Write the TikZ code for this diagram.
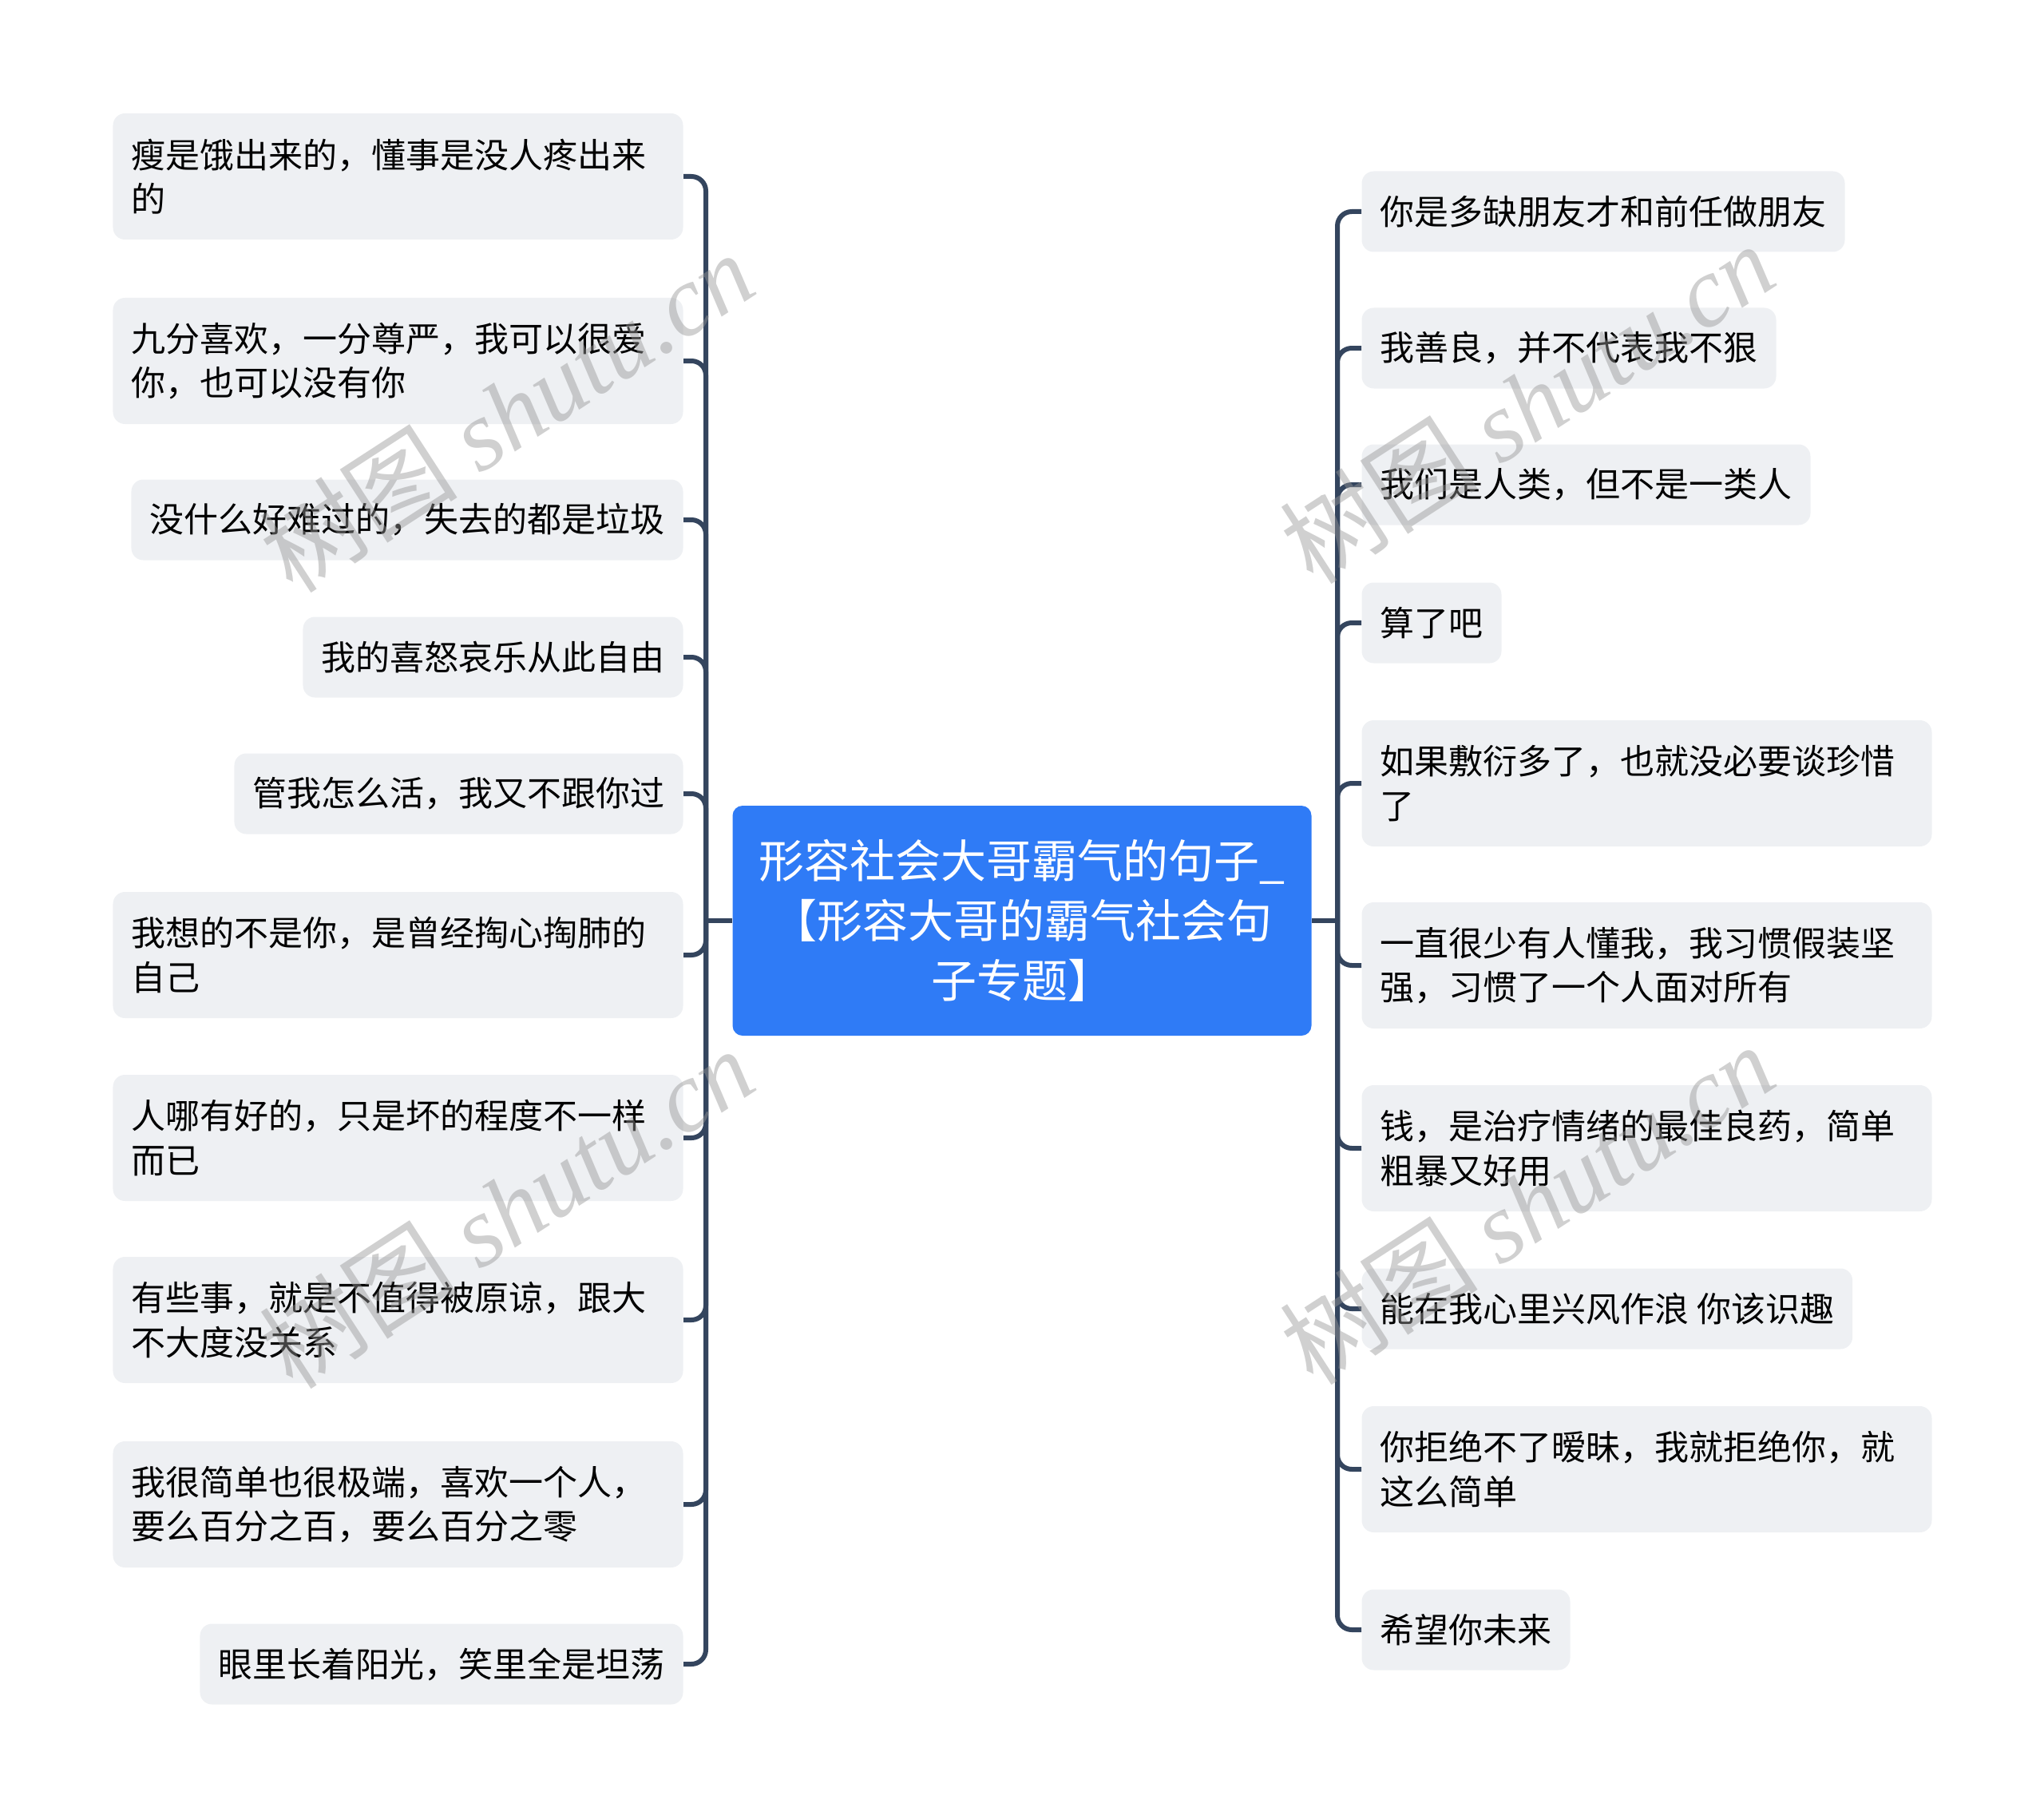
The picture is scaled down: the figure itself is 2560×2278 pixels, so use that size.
\documentclass[tikz,border=0pt]{standalone}
\usepackage{fontspec}
\newfontfamily\cjk{Noto Sans CJK SC}
\newfontfamily\wmserif{Liberation Serif}
\usetikzlibrary{positioning}

\definecolor{leafgray}{RGB}{238,240,243}
\definecolor{rootblue}{RGB}{47,123,246}
\definecolor{linkcol}{RGB}{52,69,94}
\definecolor{wmgray}{RGB}{150,150,150}

\tikzset{
  leaf/.style={rounded corners=6pt, fill=leafgray, text=black, inner xsep=9.2pt, inner ysep=0pt,
    minimum height=40.4pt, align=left, font=\cjk\fontsize{17.2pt}{22.2pt}\selectfont},
  twoline/.style={text width=267.2pt, minimum height=63.2pt},
  root/.style={rounded corners=5pt, fill=rootblue, text=white, minimum width=290pt, minimum height=115.2pt,
    align=center, font=\cjk\fontsize{22.8pt}{30pt}\selectfont},
  link/.style={draw=linkcol, line width=2.4pt, rounded corners=7.2pt},
  wmark/.style={text=wmgray, opacity=0.45, rotate=33, font=\fontsize{50pt}{56pt}\selectfont}
}

\begin{document}
\begin{tikzpicture}[x=0.4pt, y=-0.4pt]
    \useasboundingbox (0,0) rectangle (2560,2278);

    % Root
    \node[root] (root) at (1280,1153) {形容社会大哥霸气的句子\_\\【形容大哥的霸气社会句\\子专题】};
    \coordinate (jL) at (884,1153);
    \coordinate (jR) at (1675,1153);

    % Left sentences
    \node[leaf, twoline, anchor=east] (L1) at (856,221) {瘦是饿出来的，懂事是没人疼出来\\的};
    \node[leaf, twoline, anchor=east] (L2) at (856,452) {九分喜欢，一分尊严，我可以很爱\\你，也可以没有你};
    \node[leaf, anchor=east] (L3) at (856,651) {没什么好难过的，失去的都是垃圾};
    \node[leaf, anchor=east] (L4) at (856,823) {我的喜怒哀乐从此自由};
    \node[leaf, anchor=east] (L5) at (856,994) {管我怎么活，我又不跟你过};
    \node[leaf, twoline, anchor=east] (L6) at (856,1196) {我想的不是你，是曾经掏心掏肺的\\自己};
    \node[leaf, twoline, anchor=east] (L7) at (856,1425) {人哪有好的，只是坏的程度不一样\\而已};
    \node[leaf, twoline, anchor=east] (L8) at (856,1653) {有些事，就是不值得被原谅，跟大\\不大度没关系};
    \node[leaf, twoline, anchor=east] (L9) at (856,1884) {我很简单也很极端，喜欢一个人，\\要么百分之百，要么百分之零};
    \node[leaf, anchor=east] (L10) at (856,2084) {眼里长着阳光，笑里全是坦荡};

    % Right sentences
    \node[leaf, anchor=west] (R1) at (1705,265) {你是多缺朋友才和前任做朋友};
    \node[leaf, anchor=west] (R2) at (1705,436) {我善良，并不代表我不狠};
    \node[leaf, anchor=west] (R3) at (1705,607) {我们是人类，但不是一类人};
    \node[leaf, anchor=west] (R4) at (1705,780) {算了吧};
    \node[leaf, twoline, anchor=west] (R5) at (1705,981) {如果敷衍多了，也就没必要谈珍惜\\了};
    \node[leaf, twoline, anchor=west] (R6) at (1705,1209) {一直很少有人懂我，我习惯假装坚\\强，习惯了一个人面对所有};
    \node[leaf, twoline, anchor=west] (R7) at (1705,1438) {钱，是治疗情绪的最佳良药，简单\\粗暴又好用};
    \node[leaf, anchor=west] (R8) at (1705,1639) {能在我心里兴风作浪 你该识趣};
    \node[leaf, twoline, anchor=west] (R9) at (1705,1840) {你拒绝不了暧昧，我就拒绝你，就\\这么简单};
    \node[leaf, anchor=west] (R10) at (1705,2041) {希望你未来};

    % Links
    \draw[link] (root.west) -- (jL);
    \draw[link] (root.east) -- (jR);
    \foreach \n in {1,...,10} {
      \draw[link] (L\n.east) -| (jL);
      \draw[link] (R\n.west) -| (jR);
    }

    % Watermarks
    \node[wmark] (wm1) at (634,516) {\cjk 树图 \wmserif\itshape shutu.cn};
    \node[wmark] (wm2) at (1912,505) {\cjk 树图 \wmserif\itshape shutu.cn};
    \node[wmark] (wm3) at (634,1513) {\cjk 树图 \wmserif\itshape shutu.cn};
    \node[wmark] (wm4) at (1912,1508) {\cjk 树图 \wmserif\itshape shutu.cn};
\end{tikzpicture}
\end{document}
